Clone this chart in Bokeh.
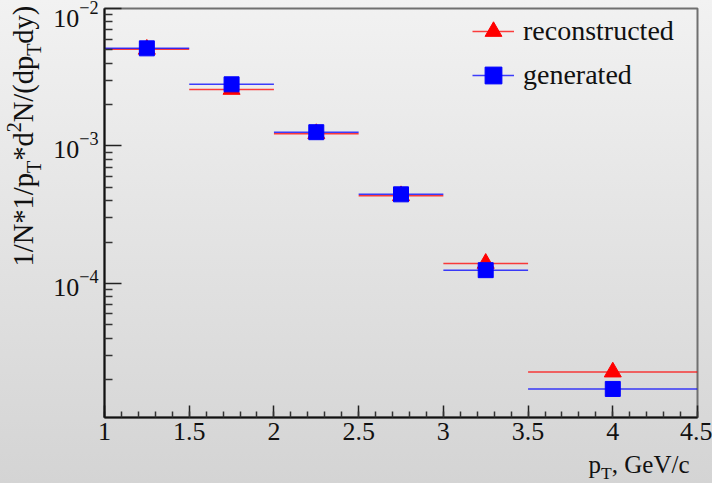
import numpy as np
from bokeh.plotting import figure
from bokeh.layouts import row, column
from bokeh.models import (Range1d, Label, Legend, LegendItem, FixedTicker,
                          SingleIntervalTicker, CustomJSTickFormatter,
                          LogTickFormatter, ColumnDataSource)
from bokeh.embed import file_html
from bokeh.resources import INLINE

# ---------------- data ----------------
pt_center = [1.25, 1.75, 2.25, 2.75, 3.25, 4.0]
pt_halfwidth = [0.25, 0.25, 0.25, 0.25, 0.25, 0.5]
reconstructed = [5.05e-3, 2.58e-3, 1.23e-3, 4.35e-4, 1.40e-4, 2.27e-5]
generated = [5.13e-3, 2.81e-3, 1.26e-3, 4.45e-4, 1.25e-4, 1.71e-5]
series_labels = ["reconstructed", "generated"]
y_decades = [-4, -3, -2]

FONT = "Liberation Serif"
TXT = "#111111"
W, H = 712, 483
LEFT_W = 50          # strip holding the y title
BOTTOM_H = 31        # strip holding the x title
FRAME_L, FRAME_B = 104, 417  # canvas px of frame left / bottom
MID = 0.3375         # text box centre above baseline, in em


def text_canvas(w, h):
    f = figure(width=w, height=h, x_range=Range1d(0, w), y_range=Range1d(0, h),
               output_backend="svg", toolbar_location=None, min_border=0,
               x_axis_location=None, y_axis_location=None)
    f.outline_line_color = None
    f.background_fill_color = None
    f.border_fill_color = None
    f.xgrid.visible = False
    f.ygrid.visible = False
    return f


# ---------------- main plot ----------------
p = figure(width=W - LEFT_W, height=H - BOTTOM_H, y_axis_type="log",
           x_range=Range1d(1, 4.5), y_range=Range1d(1.06e-5, 1.0e-2),
           output_backend="svg", toolbar_location=None,
           min_border_left=FRAME_L - LEFT_W, min_border_right=15,
           min_border_top=8, min_border_bottom=(H - BOTTOM_H) - FRAME_B)
p.background_fill_color = None
p.border_fill_color = None
p.outline_line_color = "#707070"
p.outline_line_width = 2
p.xgrid.visible = False
p.ygrid.visible = False


def make_src(vals):
    x = np.array(pt_center)
    hw = np.array(pt_halfwidth)
    return ColumnDataSource(dict(x=x, y=vals, x0=x - hw, x1=x + hw))


src_r = make_src(reconstructed)
src_g = make_src(generated)

r_err = p.segment(x0="x0", x1="x1", y0="y", y1="y", source=src_r,
                  line_color="#ff0000", line_width=1.5, line_alpha=0.75)
r_pts = p.scatter("x", "y", source=src_r, marker="triangle", size=17,
                  fill_color="#ff0000", line_color="#ff0000")
g_err = p.segment(x0="x0", x1="x1", y0="y", y1="y", source=src_g,
                  line_color="#0000ff", line_width=1.5, line_alpha=0.75)
g_pts = p.scatter("x", "y", source=src_g, marker="square", size=15,
                  fill_color="#0000ff", line_color="#0000ff")

legend = Legend(items=[LegendItem(label=series_labels[0], renderers=[r_err, r_pts]),
                       LegendItem(label=series_labels[1], renderers=[g_err, g_pts])],
                location=(472 - FRAME_L, FRAME_B - 97),
                glyph_width=42, glyph_height=44, label_height=44,
                label_standoff=9, spacing=0, padding=0, margin=0,
                border_line_color=None, background_fill_alpha=0,
                label_text_font=FONT, label_text_font_size="28px",
                label_text_color=TXT)
p.add_layout(legend)

xa = p.xaxis[0]
xa.ticker = SingleIntervalTicker(interval=0.5, num_minor_ticks=5)
xa.formatter = CustomJSTickFormatter(code="return String(tick);")
xa.major_tick_in = 12
xa.major_tick_out = 0
xa.minor_tick_in = 6
xa.minor_tick_out = 0
xa.major_label_standoff = 5

ya = p.yaxis[0]
majors = [10.0 ** d for d in y_decades]
minors = [m * 10.0 ** d for d in [-5] + y_decades for m in range(2, 10)]
ya.ticker = FixedTicker(ticks=majors, minor_ticks=minors)
ya.formatter = LogTickFormatter()
ya.major_tick_in = 17
ya.major_tick_out = 0
ya.minor_tick_in = 8
ya.minor_tick_out = 0
ya.major_label_standoff = 6

for ax in (xa, ya):
    ax.axis_line_color = "#111111"
    ax.axis_line_width = 2
    ax.major_tick_line_color = "#222222"
    ax.minor_tick_line_color = "#333333"
    ax.major_tick_line_width = 1.5
    ax.minor_tick_line_width = 1.5
    ax.major_label_text_font = FONT
    ax.major_label_text_font_size = "26px"
    ax.major_label_text_color = TXT

# ---------------- axis titles built from text pieces ----------------
ADV = {"1": 500, "/": 278, "N": 722, "*": 500, "p": 500, "T": 611, "d": 500,
       "2": 500, "(": 333, "y": 500, ")": 333, ",": 250, " ": 250, "G": 722,
       "e": 444, "V": 722, "c": 444}


def width(s, size):
    return sum(ADV[ch] for ch in s) * size / 1000.0


# y title (left strip): rotated, reading upward; anchor = text box centre
left = text_canvas(LEFT_W, H)
main_f, small_f = 28.5, 20.0
pieces = [("1/N*1/p", 0), ("T", 1), ("*d", 0), ("2", -1),
          ("N/(dp", 0), ("T", 1), ("dy)", 0)]
baseline_x = {0: 33, 1: 40, -1: 20}
cy = 266.0
for txt, kind in pieces:
    fs = main_f if kind == 0 else small_f
    left.add_layout(Label(x=baseline_x[kind] - MID * fs, y=H - cy,
                          x_units="screen", y_units="screen", text=txt,
                          angle=np.pi / 2, text_align="left",
                          text_baseline="middle", text_font=FONT,
                          text_font_size=f"{fs}px", text_color=TXT))
    cy -= width(txt, fs)

# x title (bottom strip, frame aligned with the plot frame): right aligned
bottom = text_canvas(W - LEFT_W, BOTTOM_H)
xf, xs = 25.0, 17.5
xpieces = [("p", 0), ("T", 1), (", GeV/c", 0)]
total = sum(width(t, xf if k == 0 else xs) for t, k in xpieces)
cx = 689.0 - total
for txt, kind in xpieces:
    fs = xf if kind == 0 else xs
    base_y = 472 if kind == 0 else 478
    bottom.add_layout(Label(x=cx - FRAME_L, y=H - (base_y - MID * fs),
                            x_units="screen", y_units="screen", text=txt,
                            text_align="left", text_baseline="middle",
                            text_font=FONT, text_font_size=f"{fs}px",
                            text_color=TXT))
    cx += width(txt, fs)

lay = row(left, column(p, bottom, spacing=0), spacing=0)
lay.styles = {"background": "linear-gradient(to bottom, #f2f2f2, #d4d4d4)"}

open("out.html", "w").write(file_html(lay, INLINE))
